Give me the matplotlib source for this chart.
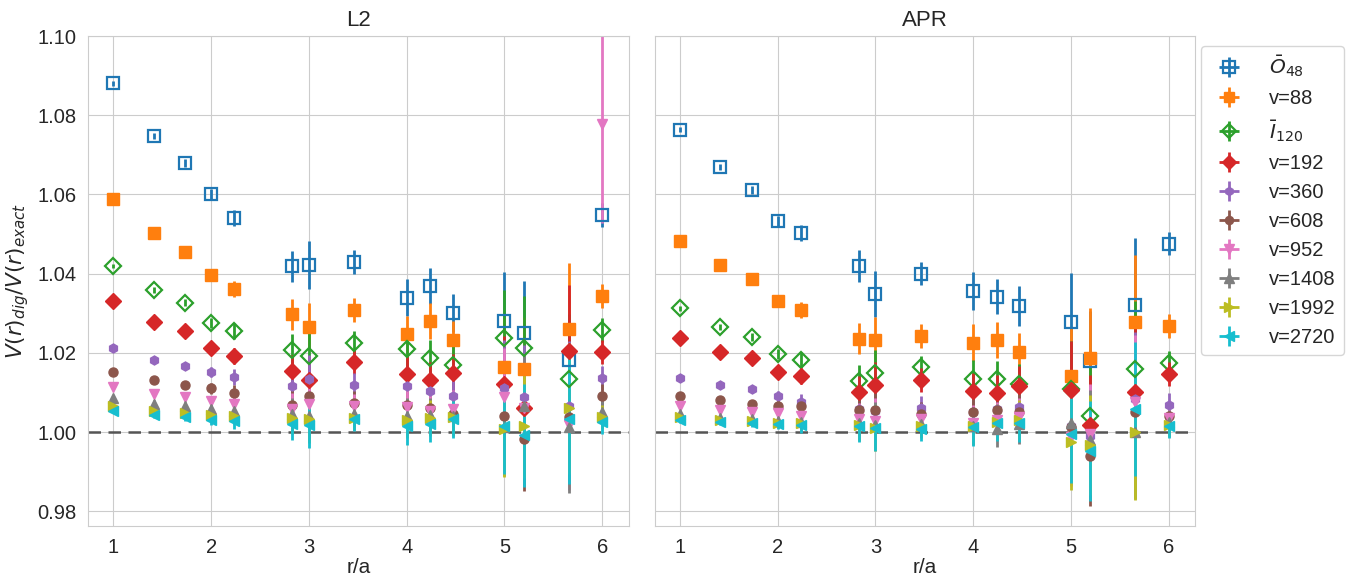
import numpy as np
import matplotlib
matplotlib.use("Agg")
import matplotlib.pyplot as plt
import seaborn as sns

sns.set_style("whitegrid")
plt.rcParams['font.family'] = ['Liberation Sans', 'DejaVu Sans']
plt.rcParams['mathtext.fontset'] = 'dejavusans'

r = [1.0, 1.414, 1.732, 2.0, 2.236, 2.828, 3.0, 3.464, 4.0, 4.243, 4.472, 5.0, 5.196, 5.657, 6.0]

labels = [r'$\bar{O}_{48}$', 'v=88', r'$\bar{I}_{120}$', 'v=192', 'v=360', 'v=608',
          'v=952', 'v=1408', 'v=1992', 'v=2720']

# ---- L2 panel ----
L2_O48  = [1.0881, 1.0748, 1.0680, 1.0601, 1.0541, 1.0418, 1.0422, 1.0430, 1.0339, 1.0369, 1.0300, 1.0281, 1.0251, 1.0181, 1.0548]
L2_v88  = [1.0588, 1.0502, 1.0454, 1.0396, 1.0362, 1.0297, 1.0266, 1.0308, 1.0247, 1.0281, 1.0233, 1.0165, 1.0160, 1.0261, 1.0344]
L2_I120 = [1.0419, 1.0358, 1.0327, 1.0276, 1.0255, 1.0207, 1.0191, 1.0226, 1.0209, 1.0188, 1.0170, 1.0237, 1.0213, 1.0134, 1.0258]
L2_v192 = [1.0331, 1.0279, 1.0254, 1.0211, 1.0192, 1.0155, 1.0131, 1.0176, 1.0146, 1.0131, 1.0148, 1.0121, 1.0060, 1.0205, 1.0202]
L2_v360 = [1.0212, 1.0182, 1.0167, 1.0152, 1.0140, 1.0115, 1.0134, 1.0119, 1.0115, 1.0103, 1.0092, 1.0110, 1.0089, 1.0066, 1.0136]
L2_v608 = [1.0152, 1.0131, 1.0119, 1.0110, 1.0099, 1.0069, 1.0090, 1.0073, 1.0068, 1.0060, 1.0045, 1.0041, 0.9982, 1.0039, 1.0092]
L2_v952 = [1.0113, 1.0096, 1.0089, 1.0079, 1.0072, 1.0058, 1.0071, 1.0066, 1.0064, 1.0054, 1.0058, 1.0089, 1.0060, 1.0018, 1.0778]
L2_v1408 = [1.0085, 1.0072, 1.0066, 1.0058, 1.0054, 1.0045, 1.0040, 1.0045, 1.0040, 1.0042, 1.0040, 1.0012, 1.0066, 1.0012, 1.0050]
L2_v1992 = [1.0065, 1.0054, 1.0048, 1.0044, 1.0040, 1.0035, 1.0033, 1.0035, 1.0031, 1.0035, 1.0037, 1.0008, 1.0014, 1.0060, 1.0037]
L2_v2720 = [1.0054, 1.0044, 1.0039, 1.0031, 1.0027, 1.0021, 1.0019, 1.0033, 1.0014, 1.0020, 1.0033, 1.0016, 0.9992, 1.0033, 1.0026]
L2_err = [0.0006, 0.0008, 0.0010, 0.0013, 0.0020, 0.0040, 0.0060, 0.0030, 0.0047, 0.0045, 0.0048, 0.0122, 0.0130, 0.0165, 0.0030]
L2_v952_err = [0.0006, 0.0008, 0.0010, 0.0013, 0.0020, 0.0040, 0.0060, 0.0030, 0.0047, 0.0045, 0.0048, 0.0122, 0.0130, 0.0165, 0.0250]

# ---- APR panel ----
APR_O48  = [1.0763, 1.0669, 1.0612, 1.0533, 1.0503, 1.0420, 1.0348, 1.0400, 1.0356, 1.0342, 1.0318, 1.0278, 1.0180, 1.0320, 1.0476]
APR_v88  = [1.0482, 1.0422, 1.0386, 1.0331, 1.0308, 1.0236, 1.0232, 1.0243, 1.0226, 1.0233, 1.0201, 1.0142, 1.0188, 1.0278, 1.0268]
APR_I120 = [1.0312, 1.0265, 1.0239, 1.0197, 1.0181, 1.0128, 1.0148, 1.0163, 1.0134, 1.0134, 1.0121, 1.0108, 1.0040, 1.0160, 1.0174]
APR_v192 = [1.0237, 1.0203, 1.0186, 1.0152, 1.0142, 1.0102, 1.0118, 1.0131, 1.0103, 1.0098, 1.0117, 1.0107, 1.0018, 1.0100, 1.0146]
APR_v360 = [1.0136, 1.0118, 1.0108, 1.0090, 1.0077, 1.0058, 1.0054, 1.0060, 1.0050, 1.0058, 1.0062, 1.0015, 0.9990, 1.0083, 1.0068]
APR_v608 = [1.0090, 1.0081, 1.0072, 1.0066, 1.0066, 1.0056, 1.0056, 1.0045, 1.0050, 1.0055, 1.0051, 1.0012, 0.9940, 1.0051, 1.0041]
APR_v952 = [1.0066, 1.0056, 1.0050, 1.0047, 1.0041, 1.0033, 1.0028, 1.0033, 1.0022, 1.0031, 1.0037, 0.9987, 0.9995, 1.0075, 1.0035]
APR_v1408 = [1.0045, 1.0035, 1.0032, 1.0028, 1.0026, 1.0022, 1.0018, 1.0020, 1.0016, 1.0008, 1.0020, 1.0024, 0.9981, 1.0000, 1.0025]
APR_v1992 = [1.0037, 1.0031, 1.0029, 1.0024, 1.0024, 1.0018, 1.0010, 1.0016, 1.0014, 1.0026, 1.0031, 0.9976, 0.9967, 0.9999, 1.0018]
APR_v2720 = [1.0030, 1.0026, 1.0022, 1.0020, 1.0018, 1.0016, 1.0010, 1.0008, 1.0012, 1.0022, 1.0024, 0.9995, 0.9953, 1.0058, 1.0014]
APR_err = [0.0006, 0.0008, 0.0010, 0.0013, 0.0020, 0.0040, 0.0058, 0.0030, 0.0047, 0.0045, 0.0050, 0.0123, 0.0126, 0.0170, 0.0030]

colors = ['#1f77b4', '#ff7f0e', '#2ca02c', '#d62728', '#9467bd', '#8c564b',
          '#e377c2', '#7f7f7f', '#bcbd22', '#17becf']
markers = ['s', 's', 'D', 'D', 'h', 'o', 'v', '^', '>', '<']
filled = [False, True, False, True, True, True, True, True, True, True]
msizes = [9, 8, 8, 8, 6.5, 6.5, 7.5, 7.5, 7.5, 7.5]

L2_series = [L2_O48, L2_v88, L2_I120, L2_v192, L2_v360, L2_v608, L2_v952, L2_v1408, L2_v1992, L2_v2720]
L2_errs = [L2_err] * 6 + [L2_v952_err] + [L2_err] * 3
APR_series = [APR_O48, APR_v88, APR_I120, APR_v192, APR_v360, APR_v608, APR_v952, APR_v1408, APR_v1992, APR_v2720]
APR_errs = [APR_err] * 10

fig, axes = plt.subplots(1, 2, figsize=(13.55, 5.76), dpi=100, sharey=True)
fig.subplots_adjust(left=0.065, right=0.882, top=0.9375, bottom=0.087, wspace=0.048)

panels = [("L2", L2_series, L2_errs), ("APR", APR_series, APR_errs)]
handles = None
for ax, (title, series, errs) in zip(axes, panels):
    hs = []
    for i, (vals, e) in enumerate(zip(series, errs)):
        c = colors[i]
        h = ax.errorbar(r, vals, yerr=e, xerr=[0] * len(r), fmt=markers[i], color=c, ecolor=c,
                        markersize=msizes[i], elinewidth=2, capsize=0,
                        markerfacecolor=(c if filled[i] else 'none'),
                        markeredgecolor=c, markeredgewidth=(1.6 if not filled[i] else 1.0),
                        label=labels[i])
        hs.append(h)
    if handles is None:
        handles = hs
    ax.axhline(1.0, color='#555555', linestyle='--', linewidth=1.8, dashes=(5, 3), zorder=1.5)
    ax.set_title(title, fontsize=16, pad=7)
    ax.set_xlabel('r/a', fontsize=15, labelpad=1)
    ax.set_xlim(0.74, 6.27)
    ax.set_xticks([1, 2, 3, 4, 5, 6])
    ax.tick_params(labelsize=14.5, pad=5)
    for s in ax.spines.values():
        s.set_color('#cccccc')

axes[0].set_ylim(0.9763, 1.10)
axes[0].set_yticks([0.98, 1.00, 1.02, 1.04, 1.06, 1.08, 1.10])
axes[0].set_yticklabels(['0.98', '1.00', '1.02', '1.04', '1.06', '1.08', '1.10'])
axes[0].set_ylabel(r'$V(r)_{dig}/V(r)_{exact}$', fontsize=15.5, labelpad=4)
axes[1].tick_params(axis='y', left=False, labelleft=False)

axes[1].legend(handles=handles, labels=labels, loc='upper left', bbox_to_anchor=(1.01, 0.98),
               fontsize=14.5, frameon=True, borderaxespad=0.0, handletextpad=1.0,
               labelspacing=0.5, markerscale=0.9)

fig.savefig('out.png', dpi=100)
